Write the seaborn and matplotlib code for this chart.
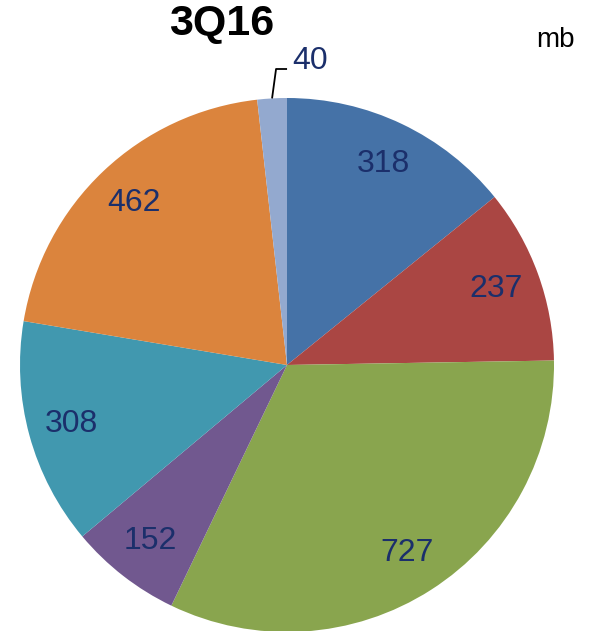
import matplotlib
matplotlib.use("Agg")
import matplotlib.pyplot as plt
import seaborn as sns
import numpy as np

sns.set_theme(style="white")
plt.rcParams['font.family'] = ['Liberation Sans', 'DejaVu Sans']

values = [318, 237, 727, 152, 308, 462, 40]
labels = ["318", "237", "727", "152", "308", "462", "40"]
colors = ["#4572A7", "#AA4643", "#89A54E", "#71588F", "#4198AF", "#DB843D", "#93A9CF"]
title = "3Q16"
unit = "mb"

W, H = 592, 631
fig = plt.figure(figsize=(W / 100, H / 100), dpi=100)
ax = fig.add_axes([0, 0, 1, 1])

cx, cy, R = 287, H - 365, 267
wedges, texts = ax.pie(values, colors=colors, startangle=90, counterclock=False,
                       center=(cx, cy), radius=R, labels=labels, labeldistance=0.835,
                       textprops=dict(color="#1B2F6B", fontsize=23),
                       wedgeprops=dict(linewidth=0))
for t in texts:
    t.set_ha("center")
    t.set_va("center")
ax.set_xlim(0, W)
ax.set_ylim(0, H)
ax.set_aspect('equal')
ax.axis('off')

# last small slice label outside with leader line
texts[-1].set_visible(False)
total = sum(values)
mid = np.deg2rad(90 - 360 * (sum(values[:-1]) + values[-1] / 2) / total)
px, py = cx + R * np.cos(mid), cy + R * np.sin(mid)
ax.plot([px, px + 4, px + 15], [py, H - 69, H - 69], color="black", lw=1.3, solid_capstyle='butt')
ax.text(292, H - 61, labels[-1], color="#1B2F6B", fontsize=23, ha="left", va="center")

ax.text(222, H - 24, title, fontsize=31, fontweight="bold", ha="center", va="center", color="black")
ax.text(555, H - 40, unit, fontsize=20, ha="center", va="center", color="black")

fig.savefig("out.png", dpi=100)
